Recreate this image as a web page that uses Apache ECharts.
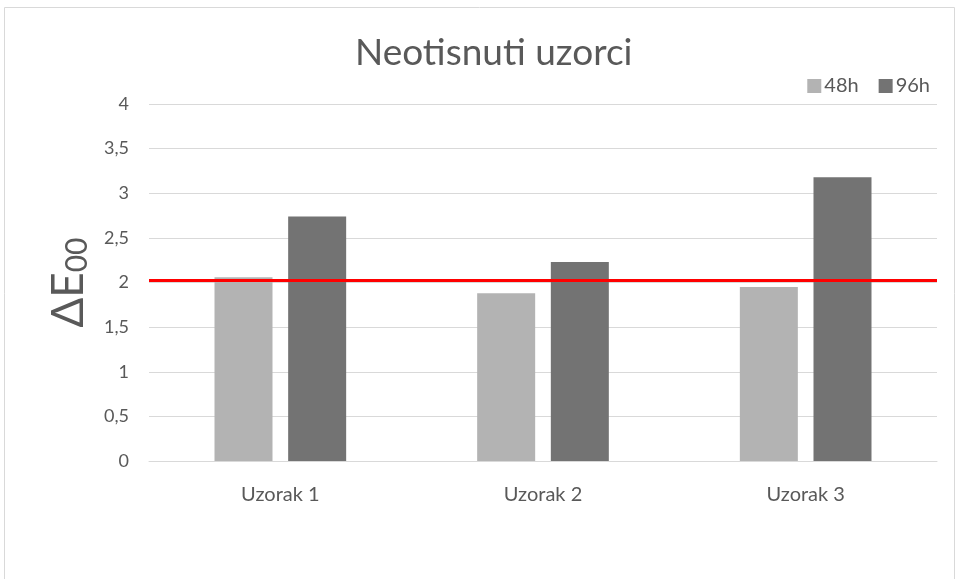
<!DOCTYPE html>
<html>
<head>
<meta charset="utf-8">
<script src="https://cdn.jsdelivr.net/npm/echarts@6/dist/echarts.min.js"></script>
<style>
  html, body { margin: 0; padding: 0; background: #fff; }
  #chart { width: 957px; height: 579px; }
</style>
</head>
<body>
<div id="chart"></div>
<script>
// podaci
const categories = ['Uzorak 1', 'Uzorak 2', 'Uzorak 3']
const values48h = [2.06, 1.88, 1.95]
const values96h = [2.74, 2.23, 3.18]
const threshold = 2.02
const yTicks = [0, 0.5, 1, 1.5, 2, 2.5, 3, 3.5, 4]

const chart = echarts.init(document.getElementById('chart'))
const font = 'Lato, "Open Sans", sans-serif'

chart.setOption({
  animation: false,
  textStyle: { fontFamily: font },
  graphic: [{
    type: 'rect',
    shape: { x: 4.5, y: 7.5, width: 950, height: 600 },
    style: { fill: 'none', stroke: '#d9d9d9', lineWidth: 1 }
  }],
  title: {
    text: 'Neotisnuti uzorci',
    left: 350,
    top: 30,
    textStyle: { fontSize: 37, fontWeight: 'normal', color: '#595959', fontFamily: font }
  },
  legend: {
    right: 22,
    top: 71,
    icon: 'rect',
    itemWidth: 14,
    itemHeight: 14,
    itemGap: 20,
    textStyle: { fontSize: 20, color: '#595959', padding: [0, 0, 0, -2] },
    data: ['48h', '96h']
  },
  grid: { left: 149, right: 20, top: 104, bottom: 118 },
  xAxis: {
    type: 'category',
    data: categories,
    axisLine: { lineStyle: { color: '#d9d9d9' } },
    axisTick: { show: false },
    axisLabel: { fontSize: 20, color: '#595959', margin: 24 }
  },
  yAxis: {
    type: 'value',
    min: yTicks[0],
    max: yTicks[yTicks.length - 1],
    interval: 0.5,
    name: '{a|ΔE}{b|00}',
    nameLocation: 'middle',
    nameGap: 57,
    nameRotate: 90,
    nameTextStyle: {
      rich: {
        a: { fontSize: 44, color: '#595959', fontFamily: font },
        b: { fontSize: 30, color: '#595959', fontFamily: font, verticalAlign: 'bottom', padding: [16, 0, 0, 0] }
      }
    },
    axisLine: { show: false },
    axisTick: { show: false },
    splitLine: { lineStyle: { color: '#d9d9d9', width: 1 } },
    axisLabel: {
      fontSize: 18,
      color: '#595959',
      margin: 20,
      formatter: v => String(v).replace('.', ',')
    }
  },
  series: [
    {
      name: '48h',
      type: 'bar',
      data: values48h,
      barWidth: 58,
      barGap: '27%',
      itemStyle: { color: '#b3b3b3' },
      markLine: {
        symbol: 'none',
        silent: true,
        label: { show: false },
        lineStyle: { color: '#ff0000', width: 3, type: 'solid' },
        data: [{ yAxis: threshold }]
      }
    },
    {
      name: '96h',
      type: 'bar',
      data: values96h,
      barWidth: 58,
      itemStyle: { color: '#737373' }
    }
  ]
})
</script>
</body>
</html>
